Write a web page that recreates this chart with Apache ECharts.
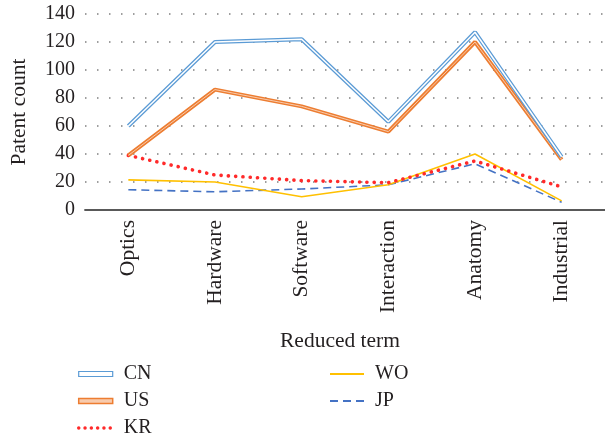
<!DOCTYPE html>
<html>
<head>
<meta charset="utf-8">
<script src="https://cdn.jsdelivr.net/npm/echarts@6/dist/echarts.min.js"></script>
<style>
html,body{margin:0;padding:0;background:#fff;}
#chart{width:605px;height:438px;}
</style>
</head>
<body>
<div id="chart"></div>
<script>
var categories = ['Optics', 'Hardware', 'Software', 'Interaction', 'Anatomy', 'Industrial'];
var cnValues = [60, 120, 122, 63, 127, 38];
var usValues = [39, 86, 74, 56, 120, 36];
var krValues = [39, 25, 21, 19.5, 35, 16.5];
var woValues = [21.5, 20, 9.5, 18, 40, 6.5];
var jpValues = [14.5, 13, 15, 18, 33, 5.5];
var yTicks = [0, 20, 40, 60, 80, 100, 120, 140];

var FONT = 'Liberation Serif';
var TXT = '#231f20';

var chart = echarts.init(document.getElementById('chart'), null, {renderer: 'canvas'});

function base(name, data, color, lineStyle, z) {
  return {
    name: name, type: 'line', data: data, symbol: 'none', z: z,
    color: color,
    lineStyle: Object.assign({color: color}, lineStyle),
    emphasis: {disabled: true}, animation: false
  };
}

var series = [
  base('JP', jpValues, '#4472c4', {width: 1.6, type: [8, 5]}, 2),
  base('WO', woValues, '#ffc000', {width: 1.6}, 3),
  base('KR', krValues, '#ff2a2a', {width: 3.6, type: [0.1, 7.2], cap: 'round'}, 4),
  base('US', usValues, '#ed7d31', {width: 4}, 5),
  base('US_in', usValues, '#f8cbad', {width: 1}, 6),
  base('CN', cnValues, '#5b9bd5', {width: 4}, 7),
  base('CN_in', cnValues, '#ffffff', {width: 1.5}, 8)
];

var noSym = {color: 'rgba(0,0,0,0)', borderWidth: 0, opacity: 0};

var legendCommon = {
  orient: 'vertical', itemWidth: 34, itemHeight: 5, itemGap: 7,
  textStyle: {fontFamily: FONT, fontSize: 20, color: TXT, lineHeight: 20, padding: [0, 0, 0, 6]},
  padding: 0, selectedMode: false
};

var option = {
  animation: false,
  backgroundColor: '#fff',
  grid: {left: 77, right: 0, top: 14, bottom: 228, containLabel: false},
  legend: [
    Object.assign({}, legendCommon, {
      left: 77, top: 364,
      data: [
        {name: 'CN', icon: 'rect', itemStyle: {color: '#fff', borderColor: '#5b9bd5', borderWidth: 1.2}},
        {name: 'US', icon: 'rect', itemStyle: {color: '#f8cbad', borderColor: '#ed7d31', borderWidth: 1.5}},
        {name: 'KR', itemStyle: noSym, lineStyle: {width: 3.4, type: [0.1, 6.2], cap: 'round'}}
      ]
    }),
    Object.assign({}, legendCommon, {
      left: 329, top: 364,
      data: [{name: 'WO', itemStyle: noSym}, {name: 'JP', itemStyle: noSym}]
    })
  ],
  xAxis: {
    type: 'category', data: categories, boundaryGap: true,
    name: 'Reduced term', nameLocation: 'middle', nameGap: 120,
    nameTextStyle: {fontFamily: FONT, fontSize: 21.5, color: TXT, padding: [0, 10, 0, 0]},
    axisLine: {lineStyle: {color: '#595959', width: 1.8}},
    axisTick: {show: false},
    axisLabel: {rotate: 90, margin: 10, fontFamily: FONT, fontSize: 21.5, color: TXT, interval: 0},
    splitLine: {show: false}
  },
  yAxis: {
    type: 'value', min: yTicks[0], max: yTicks[yTicks.length - 1], interval: yTicks[1] - yTicks[0],
    name: 'Patent count', nameLocation: 'middle', nameGap: 55, nameRotate: 90,
    nameTextStyle: {fontFamily: FONT, fontSize: 21.5, color: TXT},
    axisLine: {show: false}, axisTick: {show: false},
    axisLabel: {margin: 10, fontFamily: FONT, fontSize: 20, color: TXT},
    splitLine: {lineStyle: {color: '#7f7f7f', width: 1.5, type: [1.5, 10.5]}}
  },
  series: series
};
chart.setOption(option);
</script>
</body>
</html>
